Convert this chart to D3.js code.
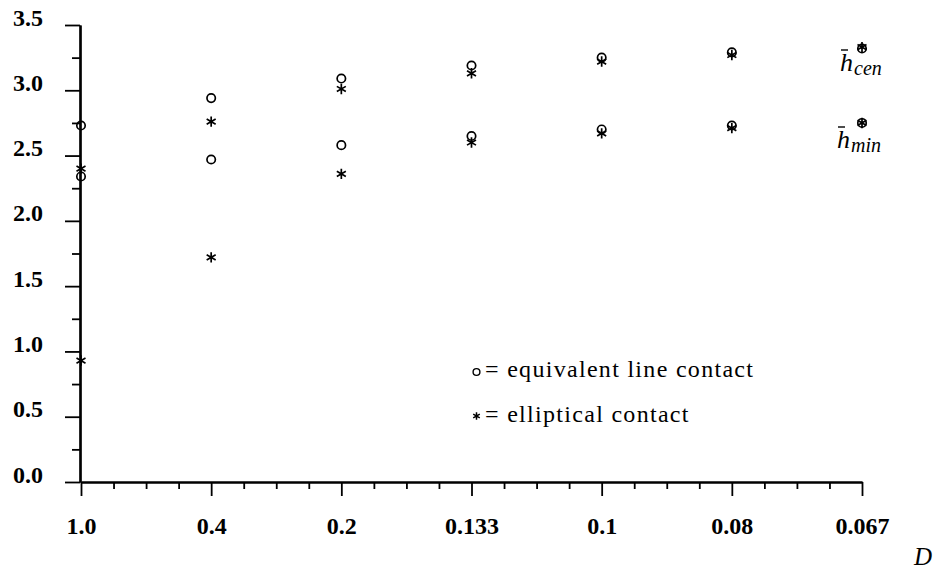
<!DOCTYPE html>
<html>
<head>
<meta charset="utf-8">
<script src="https://cdn.jsdelivr.net/npm/d3@7"></script>
</head>
<body style="margin:0;background:#fff">
<svg id="chart" width="936" height="570" style="display:block"></svg>
<script>
// ---- data ----
const categories = ["1.0", "0.4", "0.2", "0.133", "0.1", "0.08", "0.067"];
const lineCen = [2.73, 2.94, 3.09, 3.19, 3.25, 3.29, 3.32];
const lineMin = [2.34, 2.47, 2.58, 2.65, 2.70, 2.73, 2.75];
const ellCen  = [2.40, 2.76, 3.01, 3.13, 3.22, 3.27, 3.33];
const ellMin  = [0.93, 1.72, 2.36, 2.60, 2.67, 2.71, 2.75];
const yTicks = [0, 0.5, 1.0, 1.5, 2.0, 2.5, 3.0, 3.5];
const legendLabels = ["= equivalent line contact", "= elliptical contact"];

const FONT = '"Liberation Serif"';
const svg = d3.select("#chart");
const x = d3.scaleLinear().domain([0, categories.length - 1]).range([81, 862]);
const y = d3.scaleLinear().domain([0, 3.5]).range([482, 25]);

const xMinor = d3.range(0, 6.001, 0.25).filter(v => Math.abs(v - Math.round(v)) > 1e-6);
const yMinor = d3.range(0.25, 3.5, 0.5);

function styleAxis(g) {
  g.attr("font-family", null).attr("font-size", null);
  g.selectAll("path.domain").attr("stroke", "#000").attr("stroke-width", 2.2);
  g.selectAll(".tick line").attr("stroke", "#000").attr("stroke-width", 1.8);
}
function styleText(sel, size) {
  sel.style("font-family", FONT).style("font-size", size + "px").attr("fill", "#000");
}

// x axis minor
svg.append("g").attr("transform", "translate(0,482)")
  .call(d3.axisBottom(x).tickValues(xMinor).tickSize(7).tickSizeOuter(0).tickFormat(""))
  .call(styleAxis);
// x axis major
const gx = svg.append("g").attr("transform", "translate(0,482)")
  .call(d3.axisBottom(x).tickValues(d3.range(categories.length)).tickSize(14).tickSizeOuter(0)
    .tickPadding(21).tickFormat(i => categories[i]))
  .call(styleAxis);
styleText(gx.selectAll(".tick text"), 24);
gx.selectAll(".tick text").style("font-weight", "bold");

// y axis minor
svg.append("g").attr("transform", "translate(80,0)")
  .call(d3.axisLeft(y).tickValues(yMinor).tickSize(8).tickSizeOuter(0).tickFormat(""))
  .call(styleAxis);
// y axis major
const gy = svg.append("g").attr("transform", "translate(80,0)")
  .call(d3.axisLeft(y).tickValues(yTicks).tickSize(15).tickSizeOuter(0)
    .tickPadding(22).tickFormat(d3.format(".1f")))
  .call(styleAxis);
styleText(gy.selectAll(".tick text"), 24);
gy.selectAll(".tick text").attr("dy", "0em").style("font-weight", "bold");

// markers
const starPath = (r) => {
  const p = d3.path();
  [90, 30, 150].forEach(a => {
    const t = a * Math.PI / 180;
    p.moveTo(-r * Math.cos(t), -r * Math.sin(t));
    p.lineTo(r * Math.cos(t), r * Math.sin(t));
  });
  return p.toString();
};

function drawCircles(vals) {
  svg.append("g").selectAll("circle").data(vals).join("circle")
    .attr("cx", (d, i) => x(i)).attr("cy", d => y(d)).attr("r", 4.2)
    .attr("fill", "none").attr("stroke", "#000").attr("stroke-width", 1.7);
}
function drawStars(vals) {
  svg.append("g").selectAll("path").data(vals).join("path")
    .attr("transform", (d, i) => `translate(${x(i)},${y(d)})`)
    .attr("d", starPath(5.2))
    .attr("fill", "none").attr("stroke", "#000").attr("stroke-width", 1.7);
}
drawCircles(lineCen);
drawCircles(lineMin);
drawStars(ellCen);
drawStars(ellMin);

// right-side labels
function hbar(xh, yb, sub) {
  const t = svg.append("text").attr("x", xh).attr("y", yb);
  styleText(t, 26);
  t.style("font-style", "italic");
  t.append("tspan").text("h");
  t.append("tspan").attr("dy", 4).attr("dx", 1).style("font-size", "20px").text(sub);
  svg.append("line").attr("x1", xh + 1).attr("x2", xh + 8)
    .attr("y1", yb - 21).attr("y2", yb - 21)
    .attr("stroke", "#000").attr("stroke-width", 1.4);
}
hbar(840, 71, "cen");
hbar(837, 148, "min");

// legend
svg.append("circle").attr("cx", 476.5).attr("cy", 372).attr("r", 3.4)
  .attr("fill", "none").attr("stroke", "#000").attr("stroke-width", 1.4);
const l1 = svg.append("text").attr("x", 485).attr("y", 377).text(legendLabels[0]);
styleText(l1, 24); l1.style("letter-spacing", "1.3px");
svg.append("path").attr("transform", "translate(476.5,416)").attr("d", starPath(3.8))
  .attr("fill", "none").attr("stroke", "#000").attr("stroke-width", 1.5);
const l2 = svg.append("text").attr("x", 485).attr("y", 422).text(legendLabels[1]);
styleText(l2, 24); l2.style("letter-spacing", "1.3px");

// axis title
const dt = svg.append("text").attr("x", 914).attr("y", 565).text("D");
styleText(dt, 25); dt.style("font-style", "italic");
</script>
</body>
</html>
